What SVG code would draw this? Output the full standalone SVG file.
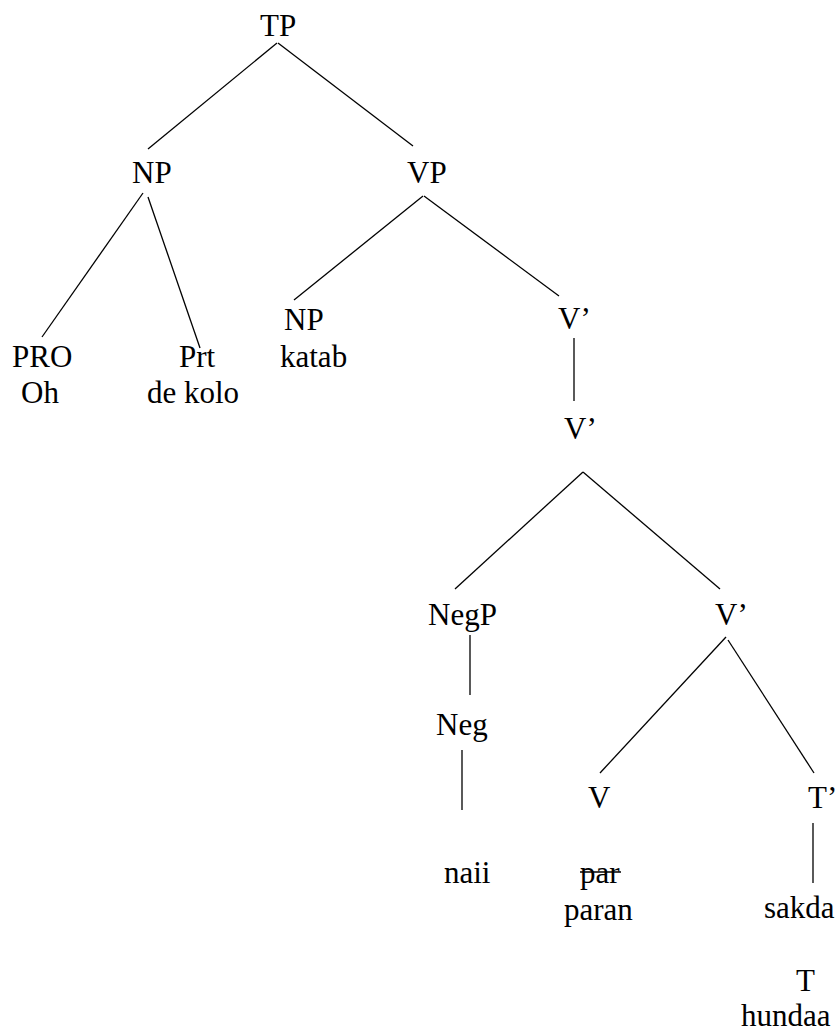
<svg xmlns="http://www.w3.org/2000/svg" width="839" height="1032" viewBox="0 0 839 1032">
  <style>
    .lbl { font-family: 'Liberation Serif', 'Times New Roman', serif; font-size: 31px; fill: #000; }
    .edge { stroke: #000; stroke-width: 1.3; fill: none; }
    .strike { stroke: #000; stroke-width: 1.6; }
  </style>
  <rect width="839" height="1032" fill="#fff"/>

  <!-- tree branches -->
  <g id="connectors">
    <line class="edge" x1="277" y1="43" x2="148" y2="149"/>
    <line class="edge" x1="278" y1="43" x2="413" y2="146"/>
    <line class="edge" x1="143" y1="193" x2="42" y2="337"/>
    <line class="edge" x1="148" y1="197" x2="200" y2="348"/>
    <line class="edge" x1="423" y1="196" x2="294" y2="300"/>
    <line class="edge" x1="424" y1="196" x2="559" y2="296"/>
    <line class="edge" x1="574" y1="338" x2="574" y2="401"/>
    <line class="edge" x1="583" y1="472" x2="455" y2="589"/>
    <line class="edge" x1="583" y1="472" x2="720" y2="589"/>
    <line class="edge" x1="470" y1="635" x2="470" y2="695"/>
    <line class="edge" x1="462" y1="750" x2="462" y2="810"/>
    <line class="edge" x1="726" y1="637" x2="600" y2="773"/>
    <line class="edge" x1="728" y1="640" x2="814" y2="773"/>
    <line class="edge" x1="813" y1="823" x2="813" y2="883"/>
  </g>

  <g id="tp"><text class="lbl" x="260" y="36">TP</text></g>
  <g id="np-subject"><text class="lbl" x="132" y="183">NP</text></g>
  <g id="vp"><text class="lbl" x="407" y="183">VP</text></g>
  <g id="pro">
    <text class="lbl" x="12" y="367">PRO</text>
    <text class="lbl" x="21" y="403">Oh</text>
  </g>
  <g id="prt">
    <text class="lbl" x="179" y="367">Prt</text>
    <text class="lbl" x="147" y="403">de kolo</text>
  </g>
  <g id="np-object">
    <text class="lbl" x="284" y="330">NP</text>
    <text class="lbl" x="280" y="367">katab</text>
  </g>
  <g id="vbar-1"><text class="lbl" x="558" y="329">V’</text></g>
  <g id="vbar-2"><text class="lbl" x="564" y="439">V’</text></g>
  <g id="negp"><text class="lbl" x="428" y="625">NegP</text></g>
  <g id="vbar-3"><text class="lbl" x="715" y="625">V’</text></g>
  <g id="neg"><text class="lbl" x="436" y="735">Neg</text></g>
  <g id="v"><text class="lbl" x="588" y="808">V</text></g>
  <g id="tbar"><text class="lbl" x="808" y="808">T’</text></g>
  <g id="naii"><text class="lbl" x="444" y="883">naii</text></g>
  <g id="paran">
    <text class="lbl" x="580" y="883">par</text>
    <line class="strike" x1="580" y1="872" x2="621" y2="872"/>
    <text class="lbl" x="564" y="920">paran</text>
  </g>
  <g id="sakda"><text class="lbl" x="764" y="918">sakda</text></g>
  <g id="t">
    <text class="lbl" x="796" y="991">T</text>
    <text class="lbl" x="741" y="1026">hundaa</text>
  </g>
</svg>
